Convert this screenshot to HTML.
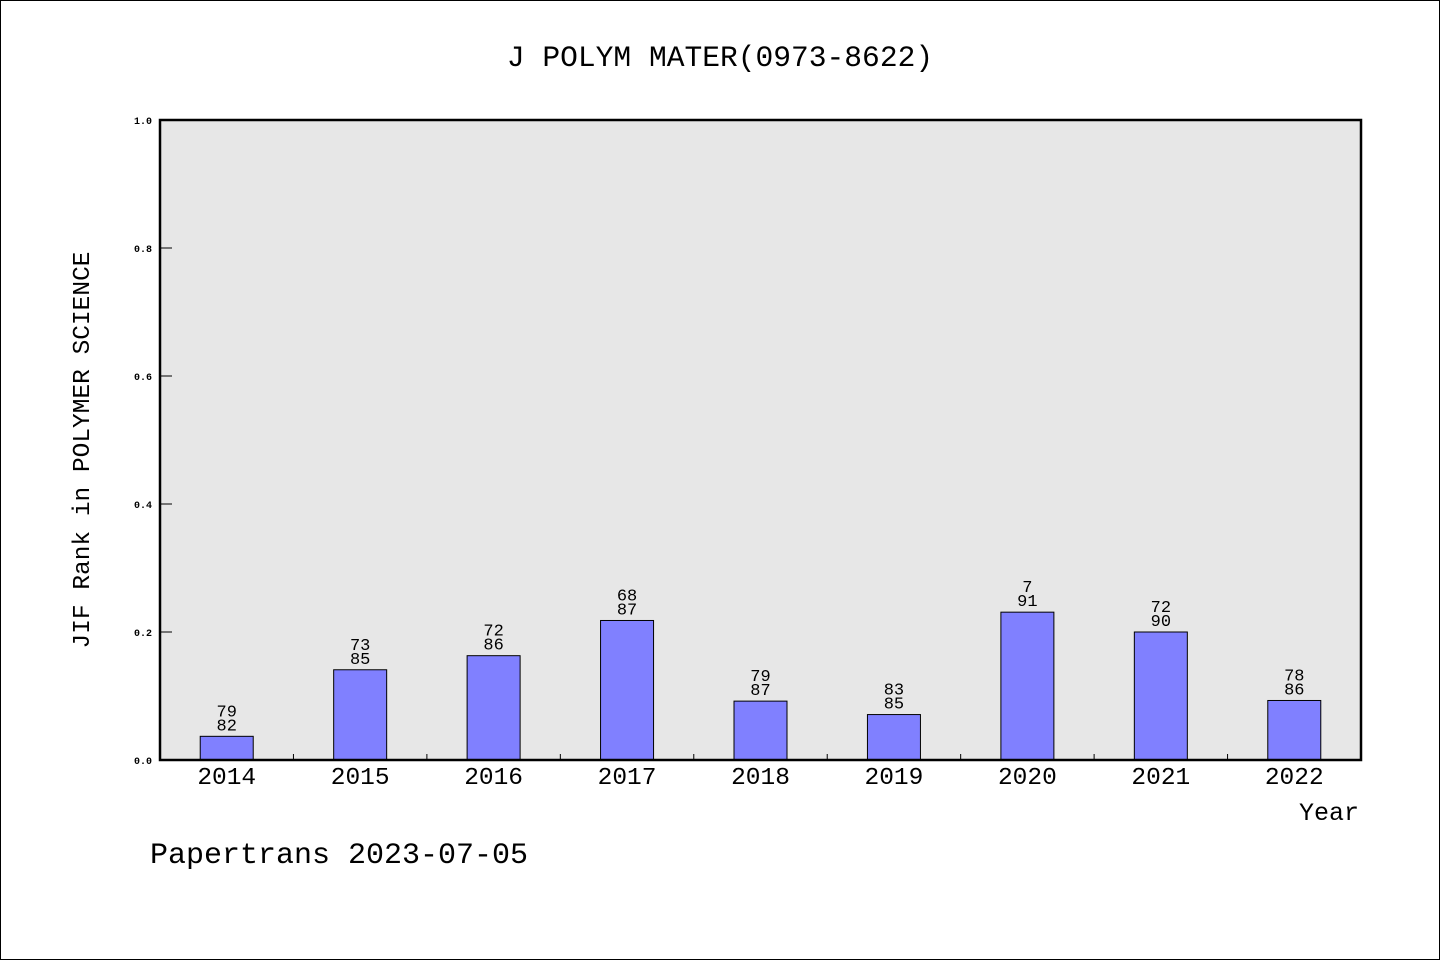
<!DOCTYPE html>
<html><head><meta charset="utf-8"><style>
html,body{margin:0;padding:0;background:#fff}
svg{display:block}
text{font-family:"WenQuanYi Zen Hei","Liberation Mono",monospace;fill:#000}
</style></head><body>
<svg id="chart" width="1440" height="960" xmlns="http://www.w3.org/2000/svg">
<rect x="0.5" y="0.5" width="1439" height="959" fill="#fff" stroke="#000"/>
<text x="720" y="66" font-size="29.6" text-anchor="middle">J POLYM MATER(0973-8622)</text>
<rect x="160" y="120" width="1201" height="640" fill="#e7e7e7"/>
<g id="bars"></g>
<rect x="160" y="120" width="1201" height="640" fill="none" stroke="#000" stroke-width="2.5"/>
<text transform="translate(89,450) rotate(-90)" font-size="24.5" text-anchor="middle">JIF Rank in POLYMER SCIENCE</text>
<text x="1359" y="820" font-size="25" text-anchor="end">Year</text>
<text x="150" y="863" font-size="30">Papertrans 2023-07-05</text>
</svg>
<script>
const years = ['2014','2015','2016','2017','2018','2019','2020','2021','2022'];
const values = [0.037,0.141,0.163,0.218,0.092,0.071,0.231,0.200,0.093];
const ranks = ['79','73','72','68','79','83','7','72','78'];
const totals = ['82','85','86','87','87','85','91','90','86'];
const yTicks = ['0.0','0.2','0.4','0.6','0.8','1.0'];
const NS='http://www.w3.org/2000/svg';
const x0=160,x1=1361,y0=760,y1=120;
const step=(x1-x0)/years.length;
const xc=i=>x0+step*(i+0.5);
const ys=v=>y0-(y0-y1)*v;
const g=document.getElementById('bars');
function mk(tag,attrs){const e=document.createElementNS(NS,tag);for(const k in attrs)e.setAttribute(k,attrs[k]);g.appendChild(e);return e;}
yTicks.forEach(t=>{
  const v=parseFloat(t);
  const l=mk('line',{x1:x0,x2:x0+12,y1:ys(v),y2:ys(v),stroke:'#000','stroke-width':1});
  
  
  const tx=mk('text',{x:152,y:ys(v)+4,'font-size':10,'font-weight':'bold','text-anchor':'end'});
  tx.textContent=t;
  
  
});
years.forEach((y,i)=>{
  if(i>0){const l=mk('line',{x1:x0+step*i,x2:x0+step*i,y1:y0,y2:y0-6,stroke:'#000'});
  
  }
  const w=53;
  const r=mk('rect',{x:xc(i)-w/2,y:ys(values[i]),width:w,height:y0-ys(values[i]),fill:'#8080ff',stroke:'#000','stroke-width':1});
  
  
  const a=mk('text',{x:xc(i),y:ys(values[i])-20,'font-size':17,'text-anchor':'middle'});
  a.textContent=ranks[i];
  
  
  const b=mk('text',{x:xc(i),y:ys(values[i])-6,'font-size':17,'text-anchor':'middle'});
  b.textContent=totals[i];
  
  
  const xl=mk('text',{x:xc(i),y:784,'font-size':24.5,'text-anchor':'middle'});
  xl.textContent=y;
  
  
});
</script>
</body></html>
